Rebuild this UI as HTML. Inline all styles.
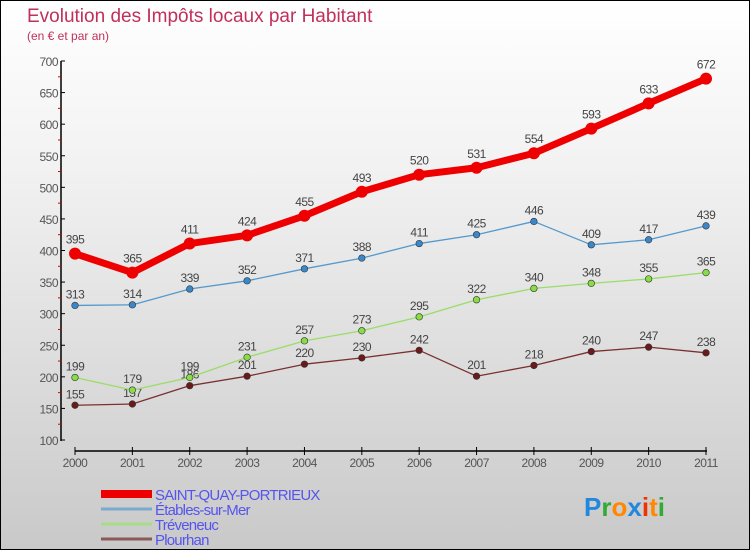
<!DOCTYPE html>
<html><head><meta charset="utf-8"><style>
body{margin:0}
#c{width:748px;height:548px;border:1px solid #000;background:linear-gradient(#fff,#f2f2f2 30%,#c9c9c9);position:relative;font-family:"Liberation Sans",sans-serif;overflow:hidden}
</style></head><body>
<div id="c">
<svg id="s" width="748" height="548"></svg>
</div>
<script>
const years=["2000","2001","2002","2003","2004","2005","2006","2007","2008","2009","2010","2011"];
const saint=[395,365,411,424,455,493,520,531,554,593,633,672];
const etables=[313,314,339,352,371,388,411,425,446,409,417,439];
const treveneuc=[199,179,199,231,257,273,295,322,340,348,355,365];
const plourhan=[155,157,186,201,220,230,242,201,218,240,247,238];
const yTicks=[100,150,200,250,300,350,400,450,500,550,600,650,700];
const NS="http://www.w3.org/2000/svg";
const s=document.getElementById('s');
function X(i){return 74+i*(705-74)/11;}
function Y(v){return 439-(v-100)*(439-60)/600;}
function el(t,a,p){const e=document.createElementNS(NS,t);for(const k in a)e.setAttribute(k,a[k]);(p||s).appendChild(e);return e;}
function txt(x,y,str,a){const e=el('text',Object.assign({x:x,y:y},a));e.textContent=str;return e;}
let t=txt(26,21,"Evolution des Impôts locaux par Habitant",{fill:"#c0305a","font-size":19});

t=txt(26,39,"(en € et par an)",{fill:"#c0305a","font-size":12});

// axes
let a=el('line',{x1:60,y1:60,x2:60,y2:440,stroke:"#000","stroke-width":1.5});

a=el('line',{x1:74,y1:450,x2:706,y2:450,stroke:"#000","stroke-width":1.5});

yTicks.forEach(v=>{
 el('line',{x1:60,y1:Y(v),x2:64,y2:Y(v),stroke:"#000"});
 if(v<700)el('line',{x1:57,y1:Y(v+25),x2:60,y2:Y(v+25),stroke:"#d00"});
 const l=txt(57,Y(v)+5,String(v),{fill:"#555","font-size":12,"text-anchor":"end","letter-spacing":"-0.5"});
 
});
years.forEach((y,i)=>{
 el('line',{x1:X(i),y1:446,x2:X(i),y2:454,stroke:"#000"});
 const l=txt(X(i),466,y,{fill:"#555","font-size":12,"text-anchor":"middle","letter-spacing":"-0.5"});
 
});
function series(data,color,w,r,fill,name,labelOff){
 const g=el('g',{});
 
 el('polyline',{points:data.map((v,i)=>X(i)+","+Y(v)).join(" "),fill:"none",stroke:color,"stroke-width":w,"stroke-linejoin":"round"},g);
 data.forEach((v,i)=>{
  const c=el('circle',{cx:X(i),cy:Y(v),r:r,fill:fill,stroke:"#333","stroke-width":r>4?0:0.6},g);
  
  const l=txt(X(i),Y(v)-labelOff,String(v),{fill:"#444","font-size":12,"text-anchor":"middle","letter-spacing":"-0.5"},g);
  
 });
}
series(plourhan,"#7a3030",1.3,3.3,"#6b1a1a","plourhan",7);
series(treveneuc,"#99dd66",1.3,3.3,"#88dd44","treveneuc",7);
series(etables,"#5599cc",1.3,3.3,"#3a88cc","etables",7);
series(saint,"#ee0000",7,6,"#ee0000","saint-quay",10);
// legend
const leg=[["SAINT-QUAY-PORTRIEUX","#ee0000",8],["Étables-sur-Mer","#7aaad0",3],["Tréveneuc","#a8dd88",3],["Plourhan","#8a5a5a",3]];
leg.forEach((d,i)=>{
 const y=493+i*15;
 const g=el('g',{});
 
 el('line',{x1:100,y1:y,x2:151,y2:y,stroke:d[1],"stroke-width":d[2]},g);
 txt(154,y+6,d[0],{fill:"#5555ee","font-size":15,"letter-spacing":"-0.8"},g);
});
const p=txt(583,515,"",{"font-size":26,"font-weight":"bold","font-family":"Liberation Sans, sans-serif"});

[["P","#2288dd"],["r","#33aa33"],["o","#ff8800"],["x","#2288dd"],["i","#ee3300"],["t","#ff8800"],["i","#33aa33"]].forEach(c=>{const ts=el('tspan',{fill:c[1]},p);ts.textContent=c[0];});
</script>
</body></html>
